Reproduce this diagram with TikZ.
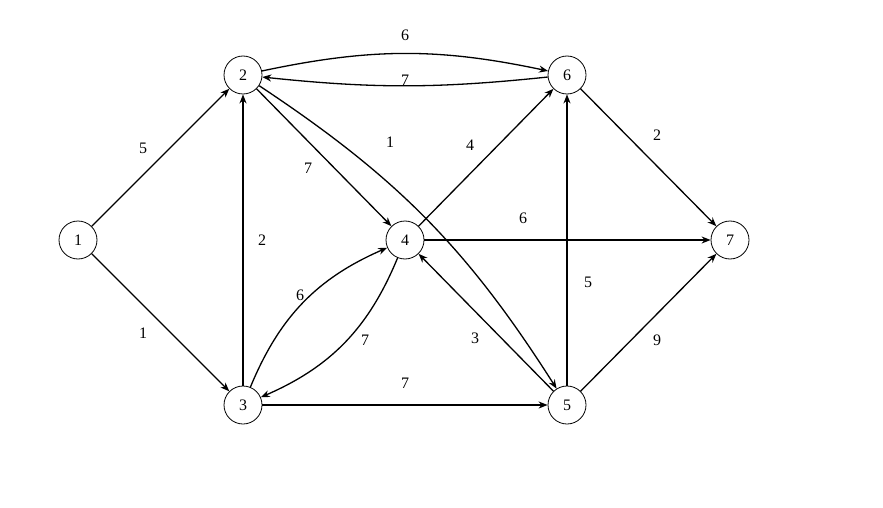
\documentclass[tikz,border=0pt]{standalone}
\usepackage{fontspec}
\setmainfont{Liberation Serif}
\usetikzlibrary{arrows.meta}
\begin{document}
\begin{tikzpicture}[x=1pt,y=-1pt,
  vert/.style={circle,draw,line width=0.8pt,minimum size=38pt,inner sep=0pt,font=\fontsize{16}{18}\selectfont},
  edge/.style={line width=1.3pt,-{Stealth[length=9pt,width=7pt]}},
  thick edge/.style={edge,line width=2pt},
  lab/.style={font=\fontsize{16}{18}\selectfont}]
\useasboundingbox (0,0) rectangle (883,508);
\node[vert] (n1) at (78,240) {1};
\node[vert] (n2) at (243,75) {2};
\node[vert] (n3) at (243,405) {3};
\node[vert] (n4) at (405,240) {4};
\node[vert] (n5) at (567,405) {5};
\node[vert] (n6) at (567,75) {6};
\node[vert] (n7) at (730,240) {7};
\draw[edge] (n1) -- (n2);
\draw[edge] (n1) -- (n3);
\draw[edge] (n2) to[bend left=12] (n6);
\draw[edge] (n6) to[bend left=6] (n2);
\draw[edge] (n2) -- (n4);
\draw[edge] (n2) to[bend left=12] (n5);
\draw[thick edge] (n3) -- (n2);
\draw[edge] (n3) to[bend left=22] (n4);
\draw[edge] (n4) to[bend left=22] (n3);
\draw[thick edge] (n3) -- (n5);
\draw[edge] (n4) -- (n6);
\draw[edge] (n4) -- (n7);
\draw[edge] (n5) -- (n4);
\draw[thick edge] (n5) -- (n6);
\draw[edge] (n5) -- (n7);
\draw[edge] (n6) -- (n7);
\node[lab] (l12) at (143,148) {5};
\node[lab] (l13) at (143,333) {1};
\node[lab] (l26) at (405,35) {6};
\node[lab] (l62) at (405,80) {7};
\node[lab] (l24) at (308,168) {7};
\node[lab] (l25) at (390,142) {1};
\node[lab] (l32) at (262,240) {2};
\node[lab] (l34) at (300,295) {6};
\node[lab] (l43) at (365,340) {7};
\node[lab] (l35) at (405,383) {7};
\node[lab] (l46) at (470,145) {4};
\node[lab] (l47) at (523,218) {6};
\node[lab] (l54) at (475,338) {3};
\node[lab] (l56) at (588,282) {5};
\node[lab] (l57) at (657,340) {9};
\node[lab] (l67) at (657,135) {2};
\end{tikzpicture}
\end{document}
